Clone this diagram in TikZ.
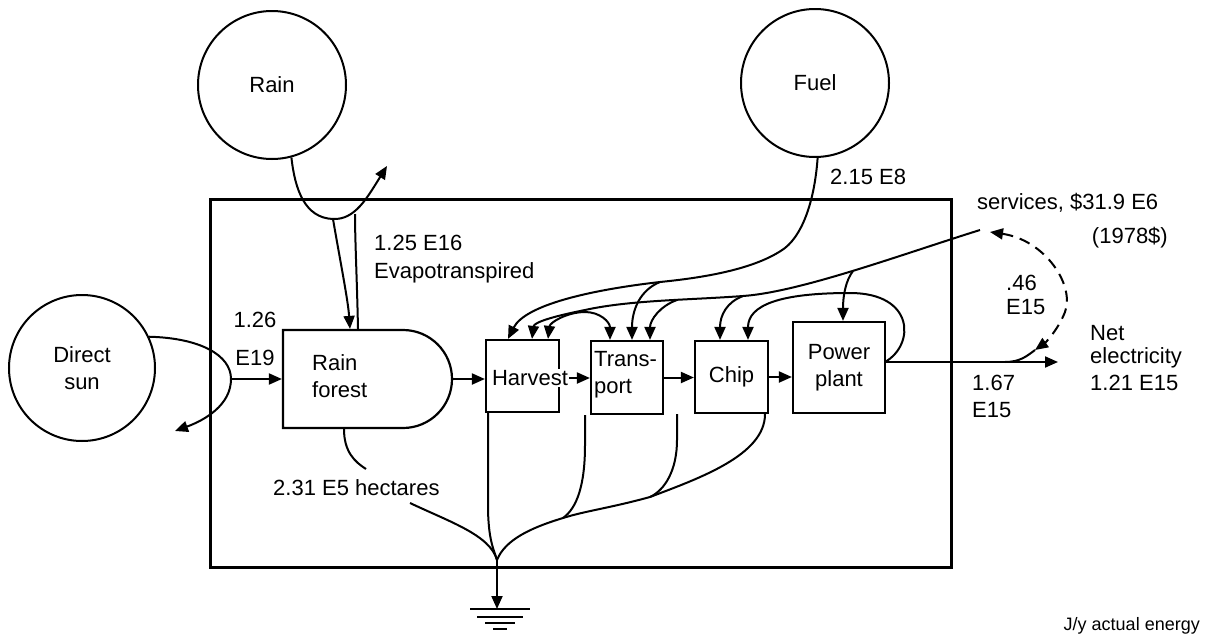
\documentclass[tikz,border=0pt]{standalone}
\usepackage{fontspec}
\setmainfont{Liberation Sans}
\usetikzlibrary{arrows.meta,shapes.misc,calc}
\begin{document}
\begin{tikzpicture}[x=1pt,y=-1pt,
  every node/.style={font=\fontsize{22}{27}\selectfont, inner sep=0pt},
  ln/.style={line width=2pt},
  tip/.tip={Triangle[length=13pt,width=11pt]},
  arr/.style={ln,-tip},
  src/.style={draw, circle, line width=2pt, minimum size=148pt, align=center},
  unit/.style={draw, rectangle, line width=2.2pt, align=center},
  lbl/.style={anchor=west, align=left}]
\useasboundingbox (0,0) rectangle (1208,640);
% system boundary
\node[draw, line width=3pt, minimum width=741pt, minimum height=368pt] (sys) at (580.5,383) {};
% sources
\node[src] (rain) at (272,85) {Rain};
\node[src] (fuel) at (815,83) {Fuel};
\node[src, minimum size=146pt] (sun) at (82,368) {Direct\\sun};
% storage / units
\node[draw, rounded rectangle, rounded rectangle left arc=none, line width=2.2pt,
      minimum width=169pt, minimum height=98pt] (forest) at (367.5,379) {};
\node[lbl] (ftext) at (312,376) {Rain\\forest};
\node[unit, minimum width=73pt, minimum height=72pt] (harvest) at (522.5,376) {};
\node[fill=white, inner sep=1pt] (htext) at (530,378) {Harvest};
\node[unit, minimum width=72pt, minimum height=73pt] (transport) at (627,377.5) {};
\node[lbl] (ttext) at (594,375) {Trans-\\port};
\node[unit, minimum width=73pt, minimum height=72pt] (chip) at (731.5,377) {Chip};
\node[unit, minimum width=92pt, minimum height=91pt] (power) at (839,367.5) {Power\\plant};
% sun
\coordinate (sj) at (231,379);
\draw[arr] (sun.25) .. controls (200,338) and (231,355) .. (sj) .. controls (231,405) and (205,420) .. (175,431);
\draw[arr] (sj) -- (forest.west);
% rain
\coordinate (cup) at (333,219);
\draw[arr] (rain.-75) .. controls (295,190) and (305,218) .. (cup) .. controls (355,220) and (367,198) .. (387,166);
\draw[arr] (cup) .. controls (340,260) and (348,300) .. (forest.north west -| 350,0);
\draw[ln] (forest.north west -| 358,0) .. controls (357,280) and (355,240) .. (355,214);
% main chain
\draw[arr] (forest.east) -- (forest.east -| harvest.west);
\draw[arr] (htext.east) -- (htext.east -| transport.west);
\draw[arr] (transport.east) -- (transport.east -| chip.west);
\draw[arr] (chip.east) -- (chip.east -| power.west);
% output
\coordinate (pout) at (885,362);
\coordinate (net) at (1058,362);
\draw[arr] (pout) -- (net);
% power plant feedback loop
\draw[arr] (pout) .. controls (915,345) and (915,293) .. (850,293) .. controls (780,293) and (748,305) .. (chip.north -| 748,0);
% services
\coordinate (svc) at (980,230);
\draw[arr] (svc) .. controls (900,255) and (800,292) .. (743,296) .. controls (690,300) and (630,300) .. (585,310) .. controls (555,316) and (534,322) .. (harvest.north -| 532,0);
\draw[arr] (853,271) .. controls (846,280) and (843,295) .. (power.north -| 843,0);
\draw[arr] (743,296) .. controls (727,302) and (720,315) .. (chip.north -| 720,0);
\draw[arr] (677,300) .. controls (660,306) and (650,320) .. (transport.north -| 650,0);
\draw[ln, tip-tip] (harvest.north -| 548,0) .. controls (550,322) and (568,312) .. (585,312) .. controls (600,312) and (610,322) .. (transport.north -| 610,0);
% fuel
\draw[arr] (fuel.-88) .. controls (815,195) and (805,232) .. (785,248) .. controls (755,270) and (700,278) .. (660,282) .. controls (590,290) and (525,305) .. (harvest.north -| 508,0);
\draw[arr] (660,282) .. controls (640,290) and (632,310) .. (transport.north -| 632,0);
% money loop
\draw[ln, dash pattern=on 11pt off 7pt, tip-tip] (990,232) .. controls (1045,240) and (1075,285) .. (1065,312) .. controls (1058,330) and (1045,343) .. (1035,350);
\draw[ln] (1005,362) .. controls (1020,362) and (1027,356) .. (1035,350);
% heat sink
\coordinate (sink) at (497,560);
\coordinate (gnd) at (497,609);
\draw[ln] (forest.south west -| 344,0) .. controls (344,452) and (355,462) .. (366,469);
\draw[ln] (410,503) .. controls (450,522) and (490,535) .. (sink);
\draw[ln] (harvest.south -| 488,0) -- (488,505) .. controls (488,540) and (494,550) .. (sink);
\draw[ln] (power.south -| 765,0) .. controls (765,455) and (700,478) .. (650,497) .. controls (610,508) and (585,511) .. (563,518) .. controls (530,528) and (505,540) .. (sink);
\draw[ln] (transport.south -| 585,0) -- (585,445) .. controls (585,485) and (577,508) .. (563,518);
\draw[ln] (chip.south -| 677,0) -- (677,440) .. controls (677,470) and (665,490) .. (650,497);
\draw[arr] (sink) -- (gnd);
\draw[ln] (470,609) -- (530,609);
\draw[ln] (477,617) -- (523,617);
\draw[ln] (485,623) -- (515,623);
\draw[ln] (493,629) -- (507,629);
% labels
\node[lbl] at (374,243) {1.25 E16};
\node[lbl] at (374,273) {Evapotranspired};
\node at (255,320) {1.26};
\node at (255,358) {E19};
\node[lbl] at (273,488) {2.31 E5 hectares};
\node[lbl] at (830,177) {2.15 E8};
\node[lbl] at (977,203) {services, \$31.9 E6};
\node[anchor=east] at (1168,238) {(1978\$)};
\node[lbl] at (1006,283) {.46};
\node[lbl] at (1006,307) {E15};
\node[lbl] at (1090,333) {Net};
\node[lbl] at (1090,358) {electricity};
\node[lbl] at (1090,383) {1.21 E15};
\node[lbl] at (972,383) {1.67};
\node[lbl] at (972,410) {E15};
\node[anchor=east, font=\fontsize{18}{22}\selectfont] at (1200,626) {J/y actual energy};
\end{tikzpicture}
\end{document}
